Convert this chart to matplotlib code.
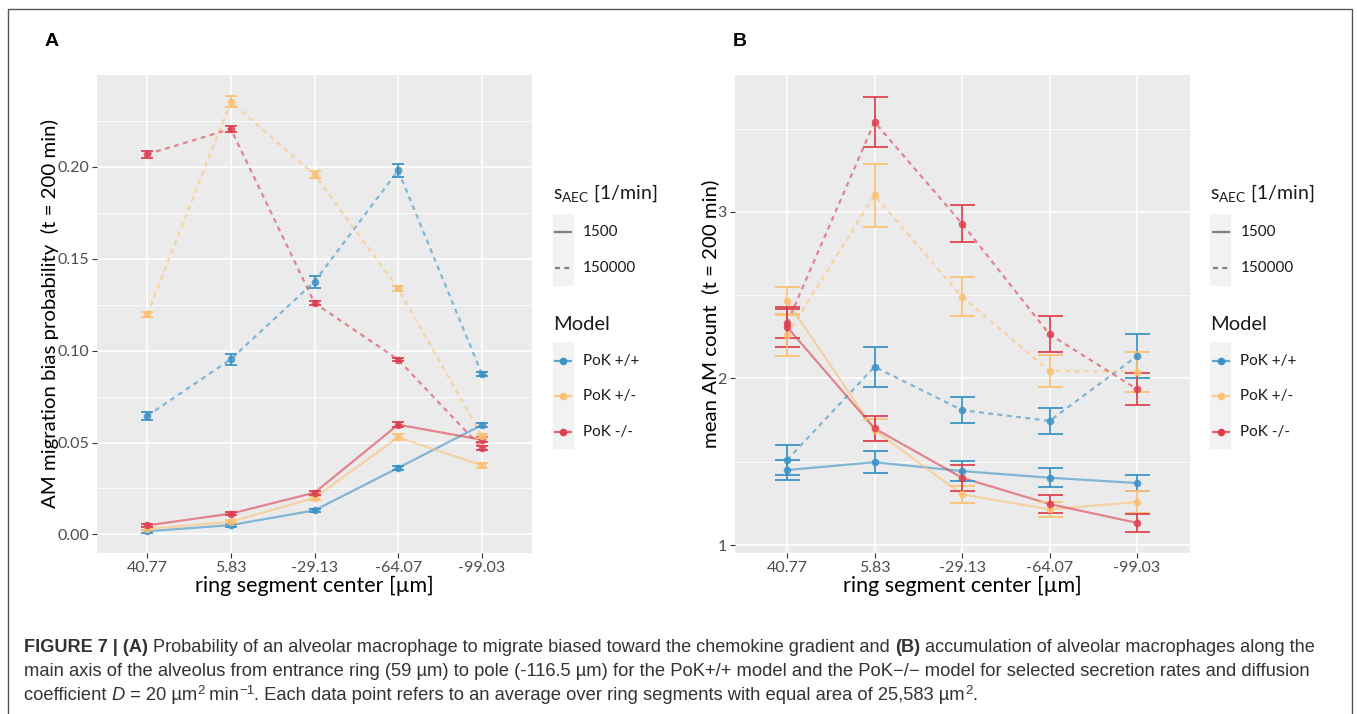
import matplotlib.pyplot as plt
import numpy as np
from matplotlib.patches import Rectangle

W, H = 1357, 714

ring_centers = ['40.77', '5.83', '-29.13', '-64.07', '-99.03']
model_names = ['PoK +/+', 'PoK +/-', 'PoK -/-']
model_colors = ['#3b92c5', '#fcc274', '#dc4050']
rate_names = ['1500', '150000']

# (A) AM migration bias probability (t = 200 min)
bias_pp_1500 = [0.0017, 0.0051, 0.0131, 0.0362, 0.0595]
bias_pm_1500 = [0.0030, 0.0069, 0.0199, 0.0529, 0.0375]
bias_mm_1500 = [0.0049, 0.0113, 0.0227, 0.0597, 0.0515]
bias_pp_1500_err = [0.0008, 0.0008, 0.0010, 0.0010, 0.0012]
bias_pm_1500_err = [0.0008, 0.0009, 0.0010, 0.0015, 0.0012]
bias_mm_1500_err = [0.0008, 0.0009, 0.0010, 0.0013, 0.0013]

bias_pp_150000 = [0.0645, 0.0953, 0.1375, 0.1980, 0.0874]
bias_pm_150000 = [0.1197, 0.2353, 0.1957, 0.1338, 0.0537]
bias_mm_150000 = [0.2068, 0.2206, 0.1259, 0.0951, 0.0470]
bias_pp_150000_err = [0.0022, 0.0030, 0.0033, 0.0035, 0.0012]
bias_pm_150000_err = [0.0012, 0.0030, 0.0020, 0.0015, 0.0012]
bias_mm_150000_err = [0.0018, 0.0018, 0.0012, 0.0010, 0.0012]

# (B) mean AM count (t = 200 min)
count_pp_1500 = [1.450, 1.497, 1.444, 1.404, 1.372]
count_pm_1500 = [2.464, 1.690, 1.304, 1.214, 1.258]
count_mm_1500 = [2.310, 1.700, 1.404, 1.246, 1.133]
count_pp_1500_err = [0.058, 0.067, 0.060, 0.057, 0.050]
count_pm_1500_err = [0.085, 0.066, 0.050, 0.045, 0.066]
count_mm_1500_err = [0.120, 0.075, 0.079, 0.054, 0.052]

count_pp_150000 = [1.510, 2.070, 1.810, 1.745, 2.134]
count_pm_150000 = [2.260, 3.100, 2.490, 2.045, 2.040]
count_mm_150000 = [2.330, 3.540, 2.930, 2.265, 1.936]
count_pp_150000_err = [0.090, 0.120, 0.080, 0.078, 0.130]
count_pm_150000_err = [0.128, 0.190, 0.118, 0.097, 0.120]
count_mm_150000_err = [0.090, 0.150, 0.112, 0.108, 0.096]

plt.rcParams['font.family'] = ['Lato', 'DejaVu Sans']
plt.rcParams['mathtext.default'] = 'regular'

fig = plt.figure(figsize=(W / 100, H / 100), dpi=100)
fig.patch.set_facecolor('white')

DASH = (0, (2.2, 2.0))


def draw_series(ax, y, err, color, dashed, capsize):
    x = np.arange(1, len(y) + 1)
    ax.plot(x, y, color=color, lw=1.6, ls=DASH if dashed else '-', alpha=0.6, zorder=2)
    ax.errorbar(x, y, yerr=err, fmt='none', ecolor=color, elinewidth=1.4,
                capsize=capsize, capthick=1.4, alpha=0.9, zorder=3)
    ax.plot(x, y, 'o', color=color, ms=5.5, mec='none', alpha=0.85, zorder=4)


def style_axes(ax, ylim, major, minor, fmt, ylabel):
    ax.set_facecolor('#ebebeb')
    ax.set_xlim(0.4, 5.6)
    ax.set_ylim(*ylim)
    ax.set_xticks(range(1, 6))
    ax.set_xticklabels(ring_centers)
    ax.set_yticks(major)
    ax.set_yticklabels([fmt % v for v in major])
    ax.set_yticks(minor, minor=True)
    ax.grid(True, which='major', color='white', lw=1.2)
    ax.grid(True, which='minor', axis='y', color='white', lw=0.6)
    ax.set_axisbelow(True)
    for s in ax.spines.values():
        s.set_visible(False)
    ax.tick_params(which='major', length=3.5, width=0.8, color='#333333',
                   labelsize=11.5, labelcolor='#4d4d4d', pad=2)
    ax.tick_params(which='minor', length=0)
    ax.set_xlabel('ring segment center [µm]', fontsize=15.5, labelpad=1)
    ax.set_ylabel(ylabel, fontsize=14.7, labelpad=-1)


axA = fig.add_axes([97 / W, 1 - 553 / H, 435 / W, 478 / H])
axB = fig.add_axes([734.5 / W, 1 - 553 / H, 455 / W, 478 / H])

style_axes(axA, (-0.0101, 0.2499), [0, 0.05, 0.10, 0.15, 0.20],
           np.arange(0.025, 0.25, 0.05), '%.2f',
           'AM migration bias probability  (t = 200 min)')
style_axes(axB, (0.952, 3.822), [1, 2, 3], [1.5, 2.5, 3.5], '%d',
           'mean AM count  (t = 200 min)')

seriesA = [
    (bias_pp_1500, bias_pp_1500_err, 0, False), (bias_pm_1500, bias_pm_1500_err, 1, False),
    (bias_mm_1500, bias_mm_1500_err, 2, False), (bias_pp_150000, bias_pp_150000_err, 0, True),
    (bias_pm_150000, bias_pm_150000_err, 1, True), (bias_mm_150000, bias_mm_150000_err, 2, True),
]
seriesB = [
    (count_pp_1500, count_pp_1500_err, 0, False), (count_pm_1500, count_pm_1500_err, 1, False),
    (count_mm_1500, count_mm_1500_err, 2, False), (count_pp_150000, count_pp_150000_err, 0, True),
    (count_pm_150000, count_pm_150000_err, 1, True), (count_mm_150000, count_mm_150000_err, 2, True),
]
for y, e, m, d in seriesA:
    draw_series(axA, y, e, model_colors[m], d, capsize=4)
for y, e, m, d in seriesB:
    draw_series(axB, y, e, model_colors[m], d, capsize=9)

# overlay in pixel coordinates for legends, labels, caption and frame
ov = fig.add_axes([0, 0, 1, 1], zorder=10)
ov.set_xlim(0, W)
ov.set_ylim(H, 0)
ov.axis('off')
ov.patch.set_alpha(0)

ov.plot([8, 8, 1351.5, 1351.5], [H + 5, 9, 9, H + 5], color='#555555', lw=1.0, clip_on=False)

for lab, x in [('A', 52), ('B', 740)]:
    ov.text(x, 42, lab, fontsize=14, fontweight='bold', family='Liberation Sans',
            ha='center', va='center', color='black')


def draw_legend(x0):
    ov.text(x0, 193, r'$s_{AEC}$ [1/min]', fontsize=14, va='center', ha='left', color='#1a1a1a')
    ov.add_patch(Rectangle((x0, 214), 21, 71.5, color='#f2f2f2', lw=0))
    for yy, rate, ls in zip([231.7, 268.3], rate_names, ['-', DASH]):
        ov.plot([x0 + 2.5, x0 + 18.5], [yy, yy], color='#808080', lw=1.6, ls=ls)
        ov.text(x0 + 30.5, yy, rate, fontsize=11, va='center', color='#1a1a1a')
    ov.text(x0, 324, 'Model', fontsize=14.5, va='center', color='#1a1a1a')
    ov.add_patch(Rectangle((x0, 341.7), 21, 107, color='#f2f2f2', lw=0))
    for yy, name, c in zip([361, 396, 431.7], model_names, model_colors):
        ov.plot([x0 + 2.5, x0 + 18.5], [yy, yy], color=c, lw=1.6, alpha=0.8)
        ov.plot(x0 + 10.5, yy, 'o', color=c, ms=5.5, mec='none')
        ov.text(x0 + 30.5, yy, name, fontsize=11, va='center', color='#1a1a1a')


draw_legend(552.7)
draw_legend(1210)

renderer = fig.canvas.get_renderer()
cap_font = ['Liberation Sans', 'DejaVu Sans']


def draw_runs(x, y, runs, target):
    # measure at 12 pt, then rescale so the line spans the target width
    def place(size, x):
        arts = []
        for txt, kw in runs:
            t = ov.text(x, y + kw.get('dy', 0), txt, va='baseline', ha='left',
                        fontsize=size * kw.get('scale', 1.0), family=cap_font, color='#333333',
                        fontweight=kw.get('weight', 'normal'), fontstyle=kw.get('style', 'normal'))
            x += t.get_window_extent(renderer).width
            arts.append(t)
        return arts, x
    arts, x_end = place(12, x)
    for a in arts:
        a.remove()
    place(12 * target / (x_end - x), x)


B = {'weight': 'bold'}
N = {}
SUP = {'scale': 0.72, 'dy': -6}
draw_runs(24, 652, [
    ('FIGURE 7 | (A)', B),
    (' Probability of an alveolar macrophage to migrate biased toward the chemokine gradient and ', N),
    ('(B)', B),
    (' accumulation of alveolar macrophages along the', N),
], 1293)
draw_runs(24, 676, [
    ('main axis of the alveolus from entrance ring (59 µm) to pole (-116.5 µm) for the PoK+/+ model '
     'and the PoK\u2212/\u2212 model for selected secretion rates and diffusion', N),
], 1289)
draw_runs(24, 700, [
    ('coefficient ', N), ('D', {'style': 'italic'}), (' = 20 µm', N), ('2', SUP), (' min', N),
    ('\u22121', SUP),
    ('. Each data point refers to an average over ring segments with equal area of 25,583 µm', N),
    ('2', SUP), ('.', N),
], 958)

fig.savefig('out.png', dpi=100)
